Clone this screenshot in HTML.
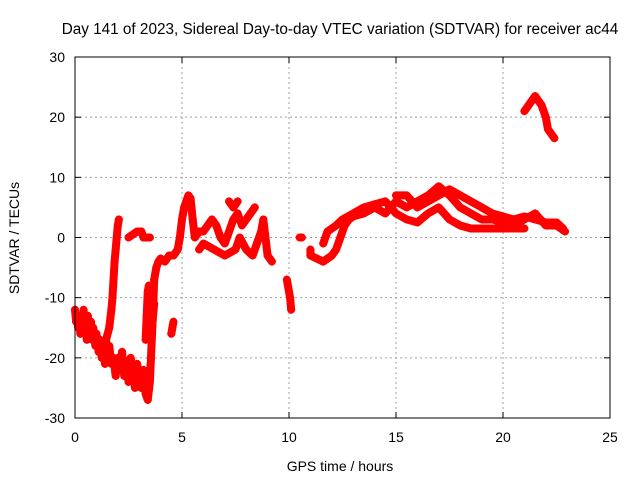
<!DOCTYPE html>
<html><head><meta charset="utf-8"><style>
body{margin:0;background:#fff}
svg{display:block;font-family:"Liberation Sans",sans-serif}
</style></head><body>
<svg id="chart" width="640" height="480">
<rect width="640" height="480" fill="#fff"/>
<text x="340" y="34" font-size="15.3" text-anchor="middle" fill="#000">Day 141 of 2023, Sidereal Day-to-day VTEC variation (SDTVAR) for receiver ac44</text>
<text x="340" y="471" font-size="14" text-anchor="middle">GPS time / hours</text>
<text transform="translate(19,238) rotate(-90)" font-size="14" text-anchor="middle">SDTVAR / TECUs</text>
<g id="grid"></g>
<g id="ticks"></g>
<g id="marks"></g>
<rect x="75" y="57" width="535" height="361" fill="none" stroke="#000" stroke-width="1"/>
</svg>
<script>
const xTicks=[0,5,10,15,20,25];
const yTicks=[-30,-20,-10,0,10,20,30];
const trackA=[[0,-12],[0.05,-14],[0.1,-13],[0.15,-15],[0.2,-14],[0.25,-16],[0.3,-13],[0.35,-15],[0.4,-12],[0.45,-16],[0.5,-14],[0.55,-17],[0.6,-13],[0.65,-15],[0.7,-16],[0.75,-14],[0.8,-17],[0.85,-15],[0.9,-16],[0.95,-18],[1.0,-16],[1.05,-17],[1.1,-19],[1.15,-17],[1.2,-18],[1.25,-20],[1.3,-18],[1.35,-19],[1.4,-21],[1.45,-17],[1.5,-19],[1.55,-20],[1.6,-18],[1.7,-21],[1.8,-20],[1.9,-23],[2.0,-20],[2.1,-22],[2.2,-19],[2.3,-23],[2.4,-21],[2.5,-24],[2.6,-20],[2.7,-22],[2.8,-25],[2.9,-21],[3.0,-23],[3.1,-25],[3.2,-22],[3.3,-26],[3.4,-27],[3.5,-24],[3.55,-20],[3.6,-16],[3.65,-12],[3.7,-7],[3.8,-5],[3.9,-4],[4.0,-3.5],[4.2,-4],[4.4,-3],[4.6,-3],[4.8,-2],[4.9,0],[5.0,3],[5.1,5],[5.2,6],[5.3,7],[5.4,6.5],[5.5,3],[5.6,0],[5.8,1],[6.0,1],[6.2,2],[6.4,3],[6.6,2],[6.8,0],[7.0,-1],[7.2,1],[7.4,3],[7.6,4],[7.8,2],[8.0,3],[8.2,4],[8.4,5]];
const trackB=[[1.45,-17],[1.6,-15],[1.7,-12],[1.75,-10],[1.8,-7],[1.85,-4],[1.9,-2],[1.95,0],[2.0,2],[2.05,3]];
const trackC=[[3.3,-17],[3.35,-13],[3.4,-9],[3.45,-8],[3.5,-12],[3.6,-15],[3.7,-11]];
const trackD=[[2.5,0],[2.7,0.5],[2.9,1],[3.1,1],[3.2,0],[3.5,0]];
const trackE=[[4.5,-16],[4.55,-15],[4.6,-14]];
const trackF=[[5.8,-2],[6.0,-1],[6.5,-2],[7.0,-3],[7.5,-2],[7.7,0],[8.0,-2],[8.3,-3],[8.5,-1],[8.7,1],[8.8,3],[8.9,0],[9.0,-3],[9.2,-4]];
const trackG=[[7.2,6],[7.4,5],[7.6,6]];
const trackH=[[9.9,-7],[9.95,-8],[10.0,-9],[10.05,-10],[10.1,-12]];
const trackI=[[10.5,0],[10.6,0]];
const trackJ=[[11.0,-2],[11.0,-3],[11.6,-4],[11.8,-3.5],[12.0,-3],[12.2,-2],[12.4,0],[12.6,2],[12.8,3],[13.0,3.5],[13.5,4],[14.0,5],[14.5,4],[15.0,6],[15.5,5],[16.0,6],[16.5,7],[17.0,8.5],[17.5,7],[18.0,5],[18.5,4],[19.0,3],[19.5,3],[20.0,2.5],[20.5,2],[21.0,3],[21.5,4],[22.0,2],[22.5,2],[22.9,1]];
const trackK=[[11.6,-1],[11.8,1],[12.0,1.5],[12.2,2],[12.5,3],[13.0,4],[13.5,5],[14.0,5.5],[14.5,6],[15.0,4],[15.5,3],[16.0,2.5],[16.5,4],[17.0,5],[17.5,3],[18.0,2],[18.5,1.5],[19.0,1.5],[19.5,1.5],[20.0,1.5],[20.5,1.5],[21.0,1.5]];
const trackL=[[15.0,7],[15.5,7],[16.0,5],[16.5,6],[17.0,7],[17.5,8],[18.0,7],[18.5,6],[19.0,5],[19.5,4],[20.0,3.5],[20.5,3],[21.0,3.5],[21.5,3],[22.0,2.5],[22.5,2.5],[22.8,1.5]];
const trackM=[[21.0,21],[21.2,22],[21.4,23],[21.5,23.5],[21.6,23],[21.8,22],[22.0,20],[22.1,18],[22.3,17],[22.4,16.5]];
const tracks=[trackA,trackB,trackC,trackD,trackE,trackF,trackG,trackH,trackI,trackJ,trackK,trackL,trackM];
const X0=75,X1=610,Y0=418,Y1=57;
function xs(v){return X0+(v-0)/(25-0)*(X1-X0);}
function ys(v){return Y0-(v+30)/60*(Y0-Y1);}
const NS="http://www.w3.org/2000/svg";
function mk(t,a,p){const e=document.createElementNS(NS,t);for(const k in a)e.setAttribute(k,a[k]);p.appendChild(e);return e;}
const grid=document.getElementById('grid'),ticks=document.getElementById('ticks'),marks=document.getElementById('marks');
xTicks.forEach(v=>{const x=xs(v);
 if(v>0&&v<25){const g=mk('line',{x1:x,x2:x,y1:Y1,y2:Y0,stroke:'#a0a0a0','stroke-dasharray':'2,3'},grid);
 
 }
 mk('line',{x1:x,x2:x,y1:Y0,y2:Y0-6,stroke:'#000'},ticks);mk('line',{x1:x,x2:x,y1:Y1,y2:Y1+6,stroke:'#000'},ticks);
 const t=mk('text',{x:x,y:Y0+24,'font-size':14,'text-anchor':'middle'},ticks);t.textContent=v;
 
 });
yTicks.forEach(v=>{const y=ys(v);
 if(v>-30&&v<30){const g=mk('line',{x1:X0,x2:X1,y1:y,y2:y,stroke:'#a0a0a0','stroke-dasharray':'2,3'},grid);
 
 }
 mk('line',{x1:X0,x2:X0+6,y1:y,y2:y,stroke:'#000'},ticks);mk('line',{x1:X1,x2:X1-6,y1:y,y2:y,stroke:'#000'},ticks);
 const t=mk('text',{x:X0-10,y:y+5,'font-size':14,'text-anchor':'end'},ticks);t.textContent=v;
 
 });
tracks.forEach(tr=>{
 const pl=mk('polyline',{points:tr.map(p=>xs(p[0])+','+ys(p[1])).join(' '),fill:'none',stroke:'#ff0000','stroke-width':8,'stroke-linejoin':'round','stroke-linecap':'round'},marks);
 
 
 tr.forEach(p=>{const x=xs(p[0]),y=ys(p[1]);
  const m=mk('path',{d:`M${x-4},${y}H${x+4}M${x},${y-4}V${y+4}`,stroke:'#ff0000','stroke-width':1.3},marks);
  
  });
});
</script>
</body></html>
